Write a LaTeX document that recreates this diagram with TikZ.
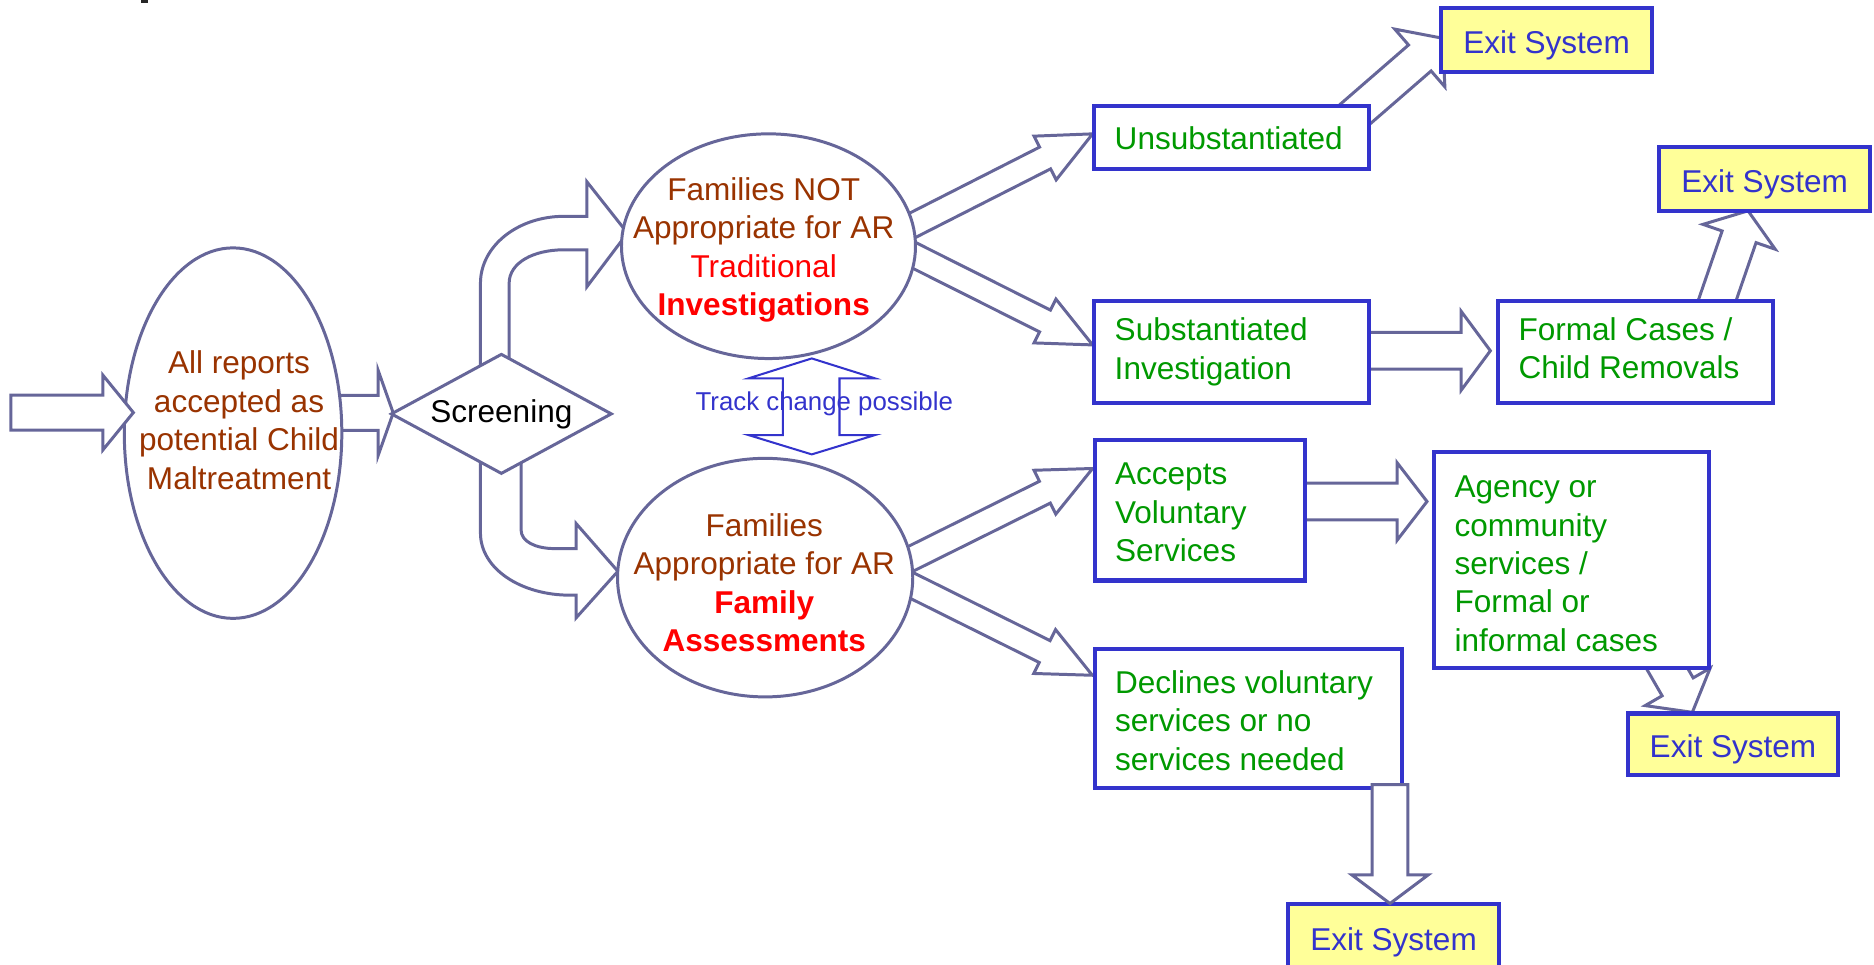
\documentclass[tikz,border=0pt]{standalone}
\usepackage{fontspec}
\setmainfont{Liberation Sans}
\usetikzlibrary{shapes.geometric,calc,backgrounds}

\definecolor{arrline}{HTML}{666699}
\definecolor{boxblue}{HTML}{3333CC}
\definecolor{exitfill}{HTML}{FFFF99}
\definecolor{txtgreen}{HTML}{009900}
\definecolor{txtbrown}{HTML}{993300}
\definecolor{txtred}{HTML}{FF0000}

\newcommand{\dfont}{\fontsize{13.2}{16.1}\selectfont}

% block arrow: start, tip, shaft half width, head half width, head length
\newcommand{\blockarr}[5]{%
  \coordinate (bab) at ($(#2)!#5!(#1)$);
  \draw[blockarrow] ($(#1)!#3!90:(#2)$) -- ($(bab)!#3!90:(#2)$) -- ($(bab)!#4!90:(#2)$)
    -- (#2) -- ($(bab)!#4!-90:(#2)$) -- ($(bab)!#3!-90:(#2)$) -- ($(#1)!#3!-90:(#2)$) -- cycle;}

\tikzset{
  blockarrow/.style={draw=arrline, line width=1.25pt, fill=white, line join=miter},
  ovalnode/.style={ellipse, draw=arrline, line width=1.25pt, fill=white, inner sep=0pt},
  ovaltext/.style={align=center, inner sep=0pt, font=\dfont, text=txtbrown},
  stagebox/.style={rectangle, draw=boxblue, line width=1.7pt, fill=white, inner sep=0pt},
  exitbox/.style={stagebox, fill=exitfill, text=boxblue, font=\dfont, text height=11.4pt, text depth=0pt},
  boxtext/.style={anchor=west, align=left, inner sep=0pt, font=\dfont, text=txtgreen},
  trackarrow/.style={draw=boxblue, line width=0.85pt, line join=miter}
}

\begin{document}
\begin{tikzpicture}[x=0.5pt, y=-0.5pt]
\useasboundingbox (0,0) rectangle (1568,807);

% tiny fragment at top edge
\fill[black!85] (118,-2) rectangle (124,2.5);

% ---------- nodes ----------
\node[ovalnode, minimum width=91pt, minimum height=155pt] (e1) at (195,362.4) {};
\node[ovalnode, minimum width=123pt, minimum height=94pt] (e2) at (643,206) {};
\node[ovalnode, minimum width=123.5pt, minimum height=99.8pt] (e3) at (640.2,483.3) {};
\node[diamond, draw=arrline, line width=1.25pt, fill=white, aspect=1.84,
      minimum width=92.5pt, minimum height=50.3pt, inner sep=0pt, font=\dfont] (scr) at (419.5,346.3) {Screening};

\node[ovaltext] (e1t) at (200,351.5) {All reports\\accepted as\\potential Child\\Maltreatment};
\node[ovaltext] (e2t) at (639,209.3) {Families NOT\\Appropriate for AR\\\textcolor{txtred}{Traditional}\\\textcolor{txtred}{\bfseries Investigations}};
\node[ovaltext] (e3t) at (639.5,487.5) {Families\\Appropriate for AR\\\textcolor{txtred}{\bfseries Family}\\\textcolor{txtred}{\bfseries Assessments}};

\node[exitbox, minimum width=88pt, minimum height=26.5pt] (exit1) at (1294,33.5) {Exit System};
\node[stagebox, minimum width=115pt, minimum height=26.5pt] (unsub) at (1030.6,115.25) {};
\node[exitbox, minimum width=88.5pt, minimum height=26.8pt] (exit2) at (1476.5,149.6) {Exit System};
\node[stagebox, minimum width=115pt, minimum height=42.5pt] (subst) at (1030.6,294.5) {};
\node[stagebox, minimum width=115pt, minimum height=42.5pt] (formal) at (1368.5,294.5) {};
\node[stagebox, minimum width=88pt, minimum height=58.7pt] (accepts) at (1003.9,427) {};
\node[stagebox, minimum width=115pt, minimum height=90.25pt] (agency) at (1315,468.75) {};
\node[stagebox, minimum width=128.5pt, minimum height=58pt] (declines) at (1044.4,601) {};
\node[exitbox, minimum width=88pt, minimum height=25.75pt] (exit3) at (1450,622.75) {Exit System};
\node[exitbox, minimum width=88pt, minimum height=27pt] (exit4) at (1166,783.5) {Exit System};

\node[boxtext] (unsubt) at ([xshift=9.2pt]unsub.west) {Unsubstantiated};
\node[boxtext] (substt) at ([xshift=9.2pt]subst.west) {Substantiated\\Investigation};
\node[boxtext] (formalt) at ([xshift=9.2pt, yshift=1.5pt]formal.west) {Formal Cases /\\Child Removals};
\node[boxtext] (acceptst) at ([xshift=9.2pt, yshift=-1pt]accepts.west) {Accepts\\Voluntary\\Services};
\node[boxtext] (agencyt) at ([xshift=9.2pt, yshift=-1.5pt]agency.west) {Agency or\\community\\services /\\Formal or\\informal cases};
\node[boxtext] (declinest) at ([xshift=9.2pt, yshift=-1pt]declines.west) {Declines voluntary\\services or no\\services needed};

% ---------- connector end points ----------
\coordinate (ain-s) at (9,345.2);      \coordinate (ain-t) at (111.6,345.2);
\coordinate (a1-s) at (265,345.5);     \coordinate (a1-t) at (329,345.5);
\coordinate (a2-s) at (745.7,197.6);   \coordinate (a2-t) at (914.2,112);
\coordinate (a3-s) at (745.6,204);     \coordinate (a3-t) at (914.2,288.6);
\coordinate (a4-s) at (744,476.5);     \coordinate (a4-t) at (914.2,392);
\coordinate (a5-s) at (745,481);       \coordinate (a5-t) at (914,565);
\coordinate (a6-s) at (1101,124);      \coordinate (a6-t) at (1207,32);
\coordinate (a7-s) at (1135,293.5);    \coordinate (a7-t) at (1247,293.5);
\coordinate (a8-s) at (1426.8,280.4);  \coordinate (a8-t) at (1462.6,176.4);
\coordinate (a9-s) at (1085,419.6);    \coordinate (a9-t) at (1194,419.6);
\coordinate (a10-s) at (1371,518);     \coordinate (a10-t) at (1416,596);
\coordinate (a11-s) at (1163,656.6);   \coordinate (a11-t) at (1163,756);
\coordinate (tc-top) at (679.2,299.9); \coordinate (tc-bot) at (679.2,380.2);
\coordinate (up-t) at (525,195);       \coordinate (lo-t) at (517,478);

% ---------- connectors under the shapes ----------
\begin{pgfonlayer}{background}
  % screening -> NOT appropriate (bent)
  \draw[blockarrow] (402,320) -- (402,237) .. controls (402,206) and (433,181) .. (472,181)
    -- (491,181) -- (491,152) -- (up-t) -- (491,240) -- (491,209) -- (472,209)
    .. controls (446,209) and (426,220) .. (426,237) -- (426,320) -- cycle;
  % screening -> appropriate (bent)
  \draw[blockarrow] (402,370) -- (402,446) .. controls (402,476) and (436,498) .. (477,498)
    -- (482,498) -- (482,517) -- (lo-t) -- (482,438) -- (482,459) -- (464,459)
    .. controls (448,459) and (436,453) .. (436,443.5) -- (436,370) -- cycle;
  \blockarr{a1-s}{a1-t}{7.3pt}{17.8pt}{6.3pt}
  \blockarr{a2-s}{a2-t}{5.1pt}{10.25pt}{22.3pt}
  \blockarr{a3-s}{a3-t}{5.1pt}{10.25pt}{22.3pt}
  \blockarr{a4-s}{a4-t}{5.1pt}{10.25pt}{22.3pt}
  \blockarr{a5-s}{a5-t}{5.1pt}{10.25pt}{22.3pt}
  \blockarr{a6-s}{a6-t}{7.2pt}{16pt}{12.6pt}
  \blockarr{a7-s}{a7-t}{7.65pt}{16.5pt}{12.2pt}
  \blockarr{a8-s}{a8-t}{7.5pt}{16pt}{11.5pt}
  \blockarr{a9-s}{a9-t}{7.65pt}{16.2pt}{12.5pt}
  \blockarr{a10-s}{a10-t}{7.5pt}{15.7pt}{12.3pt}
\end{pgfonlayer}

% ---------- connectors on top ----------
\blockarr{ain-s}{ain-t}{7.3pt}{15.7pt}{12.8pt}
\blockarr{a11-s}{a11-t}{7.5pt}{16pt}{12pt}

\draw[trackarrow] (tc-top) -- (732.2,316.6) -- (702.4,316.6) -- (702.4,364) -- (732.2,364)
  -- (tc-bot) -- (626.2,364) -- (655,364) -- (655,316.6) -- (626.2,316.6) -- cycle;
\node[inner sep=0pt, text=boxblue, font=\fontsize{10.8}{13}\selectfont] (tct) at (689.7,338) {Track change possible};

\end{tikzpicture}
\end{document}
